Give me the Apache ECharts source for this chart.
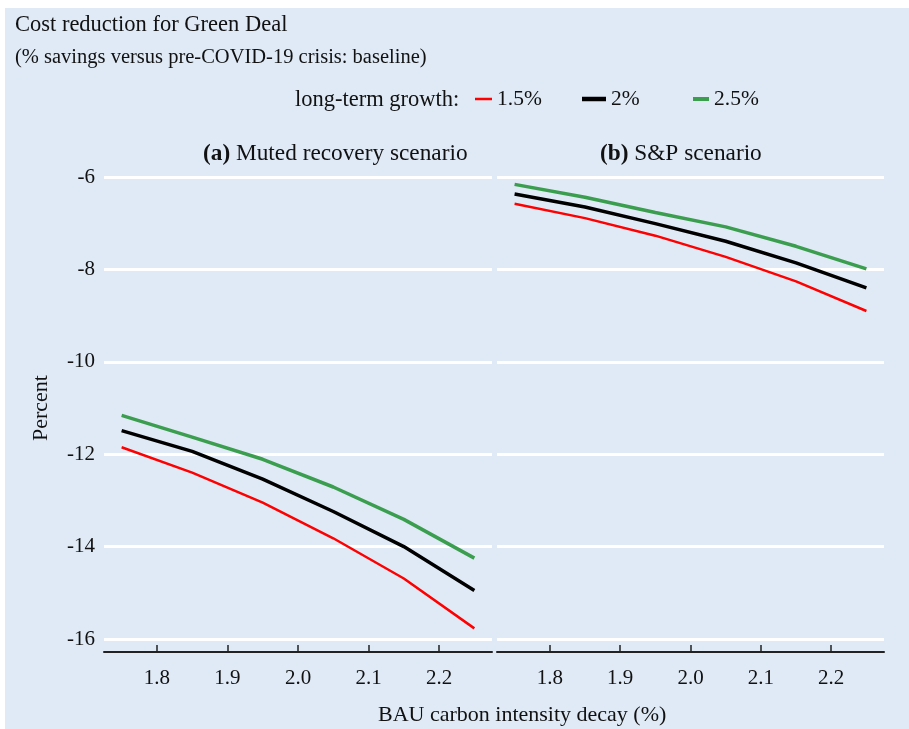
<!DOCTYPE html>
<html>
<head>
<meta charset="utf-8">
<script src="https://cdn.jsdelivr.net/npm/echarts@6/dist/echarts.min.js"></script>
<style>
  html, body { margin: 0; padding: 0; background: #ffffff; }
  #wrap { position: relative; width: 909px; height: 729px; }
  #bg { position: absolute; left: 5px; top: 8px; width: 904px; height: 721px; background: #dfeaf6; }
  #chart { position: absolute; left: 0; top: 0; width: 909px; height: 729px; }
</style>
</head>
<body>
<div id="wrap"><div id="bg"></div><div id="chart"></div></div>
<script>
// ---- data ----
const decay = [1.75, 1.85, 1.95, 2.05, 2.15, 2.25];
const xTicks = [1.8, 1.9, 2.0, 2.1, 2.2];
const growthNames = ['1.5%', '2%', '2.5%'];
// (a) Muted recovery scenario
const mutedG15 = [-11.85, -12.40, -13.05, -13.82, -14.69, -15.77];
const mutedG20 = [-11.49, -11.94, -12.54, -13.24, -14.00, -14.95];
const mutedG25 = [-11.16, -11.63, -12.11, -12.71, -13.41, -14.25];
// (b) S&P scenario
const spG15 = [-6.58, -6.89, -7.27, -7.73, -8.26, -8.90];
const spG20 = [-6.37, -6.65, -7.01, -7.39, -7.86, -8.40];
const spG25 = [-6.16, -6.44, -6.77, -7.08, -7.50, -7.99];

const FONT = '"Liberation Serif", "Times New Roman", serif';
const colors = ['#ff0000', '#000000', '#3b9e4f'];
const widths = [2.5, 3.5, 3.5];

const pairs = ys => decay.map((x, i) => [x, ys[i]]);

function xAxisDef(gi) {
  return {
    gridIndex: gi, type: 'value', min: 1.725, max: 2.275,
    offset: 13,
    axisLine: { show: true, lineStyle: { color: '#222', width: 2 } },
    axisTick: { show: true, inside: true, length: 7, lineStyle: { color: '#222', width: 1.5 }, customValues: xTicks },
    axisLabel: { show: true, margin: 16, color: '#111', fontFamily: FONT, fontSize: 21,
                 customValues: xTicks, formatter: v => v.toFixed(1) },
    splitLine: { show: false }
  };
}
function yAxisDef(gi, labels) {
  return {
    gridIndex: gi, type: 'value', min: -16, max: -6, interval: 2,
    axisLine: { show: false }, axisTick: { show: false },
    axisLabel: { show: labels, margin: 9, color: '#111', fontFamily: FONT, fontSize: 21 },
    splitLine: { show: true, lineStyle: { color: '#ffffff', width: 3 } },
    name: labels ? 'Percent' : '',
    nameLocation: 'middle', nameRotate: 90, nameGap: 52,
    nameTextStyle: { color: '#111', fontFamily: FONT, fontSize: 22 }
  };
}

const seriesSets = [[mutedG15, mutedG20, mutedG25], [spG15, spG20, spG25]];
const series = [];
seriesSets.forEach((set, gi) => {
  set.forEach((ys, k) => {
    series.push({
      name: growthNames[k], type: 'line', xAxisIndex: gi, yAxisIndex: gi,
      data: pairs(ys), symbol: 'none', smooth: false,
      lineStyle: { color: colors[k], width: widths[k] },
      itemStyle: { color: colors[k] }
    });
  });
});

function legendDef(name, left, w, h) {
  return {
    data: [name], left: left, top: 88, padding: 0, icon: 'rect', itemWidth: w, itemHeight: h,
    selectedMode: false,
    textStyle: { color: '#111', fontFamily: FONT, fontSize: 21.5 }
  };
}

const chart = echarts.init(document.getElementById('chart'), null, { renderer: 'canvas' });
chart.setOption({
  animation: false,
  title: {
    text: 'Cost reduction for Green Deal',
    subtext: '(% savings versus pre-COVID-19 crisis: baseline)',
    left: 10, top: 6, itemGap: 6,
    textStyle: { color: '#111', fontFamily: FONT, fontSize: 22.5, fontWeight: 'normal', lineHeight: 28 },
    subtextStyle: { color: '#111', fontFamily: FONT, fontSize: 20.5, lineHeight: 26 }
  },
  legend: [
    legendDef('1.5%', 475, 17, 2.5),
    legendDef('2%', 582, 24, 4.5),
    legendDef('2.5%', 693, 16, 4)
  ],
  grid: [
    { left: 104, top: 177, width: 388, height: 462 },
    { left: 497, top: 177, width: 387, height: 462 }
  ],
  xAxis: [xAxisDef(0), xAxisDef(1)],
  yAxis: [yAxisDef(0, true), yAxisDef(1, false)],
  graphic: [
    { type: 'text', left: 295, top: 89,
      style: { text: 'long-term growth:', fill: '#111', font: '22.5px ' + FONT } },
    { type: 'text', left: 203, top: 142,
      style: { text: '{b|(a)} Muted recovery scenario', fill: '#111', font: '23.3px ' + FONT,
               rich: { b: { fontWeight: 'bold', fontSize: 23.3, fontFamily: FONT, fill: '#111' } } } },
    { type: 'text', left: 600, top: 142,
      style: { text: '{b|(b)} S&P scenario', fill: '#111', font: '23.3px ' + FONT,
               rich: { b: { fontWeight: 'bold', fontSize: 23.3, fontFamily: FONT, fill: '#111' } } } },
    { type: 'text', left: 378, top: 704,
      style: { text: 'BAU carbon intensity decay (%)', fill: '#111', font: '22px ' + FONT } }
  ],
  series: series
});
</script>
</body>
</html>
